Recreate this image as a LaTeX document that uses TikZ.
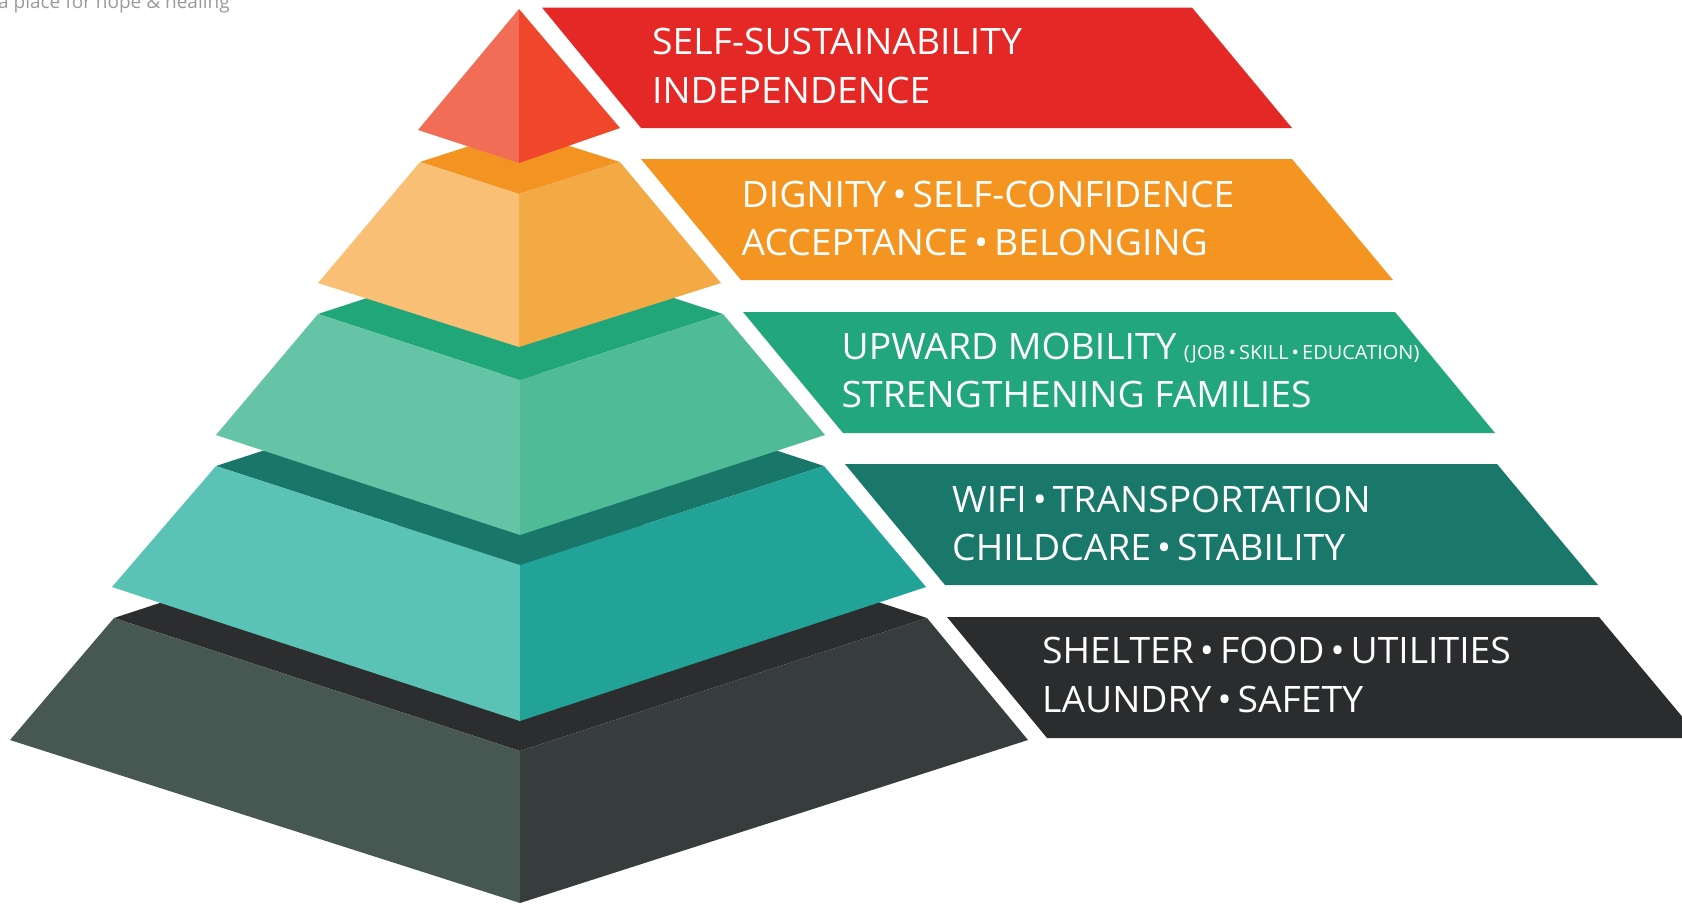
\documentclass[tikz,border=0pt]{standalone}
\usepackage{fontspec}
\setmainfont{Open Sans}
\newfontfamily\lblfont[FakeStretch=1.025]{Open Sans}
\newfontfamily\tagfont{Open Sans}
\newcommand\bul{\kern6pt•\kern6pt}
\newcommand\sbul{\kern3pt•\kern3pt}
\definecolor{apexL}{HTML}{F26D55}
\definecolor{apexR}{HTML}{F0462C}
\definecolor{orT}{HTML}{F39422}
\definecolor{orL}{HTML}{F8BF75}
\definecolor{orR}{HTML}{F3AA45}
\definecolor{grT}{HTML}{21A67A}
\definecolor{grL}{HTML}{66C4A6}
\definecolor{grR}{HTML}{4FBC97}
\definecolor{tlT}{HTML}{197769}
\definecolor{tlL}{HTML}{5BC3B6}
\definecolor{tlR}{HTML}{21A398}
\definecolor{dkT}{HTML}{2B2D2E}
\definecolor{dkL}{HTML}{475853}
\definecolor{dkR}{HTML}{373D3D}
\definecolor{bRed}{HTML}{E42825}
\definecolor{bOr}{HTML}{F39520}
\definecolor{bGr}{HTML}{21A77B}
\definecolor{bTl}{HTML}{1A786A}
\definecolor{bDk}{HTML}{2A2C2D}
\definecolor{tagc}{HTML}{9A9A9A}
\begin{document}
\begin{tikzpicture}[x=1pt,y=-1pt,
  lbl/.style={anchor=base west, inner sep=0pt, text=white, font=\lblfont\fontsize{36.4}{44}\selectfont},
  small/.style={anchor=base west, inner sep=0pt, text=white, font=\lblfont\fontsize{19.5}{23}\selectfont},
  tag/.style={anchor=base west, inner sep=0pt, text=tagc, font=\tagfont\fontsize{19}{23}\selectfont}]
\useasboundingbox (0,0) rectangle (1682,903);
\clip (0,0) rectangle (1682,903);
% tagline
\node[tag] (tagline) at (-2,8) {a place for hope \& healing};
% ---- pyramid: dark tier
\fill[dkT] (114,618) -- (520,485) -- (927,618) -- (520,751) -- cycle;
\fill[dkL] (114,618) -- (520,751) -- (520,903) -- (10,740) -- cycle;
\fill[dkR] (520,751) -- (927,618) -- (1028,740) -- (520,903) -- cycle;
% teal tier
\fill[tlT] (216,466) -- (520,367) -- (824,466) -- (520,565) -- cycle;
\fill[tlL] (216,466) -- (520,565) -- (520,721) -- (112,587) -- cycle;
\fill[tlR] (520,565) -- (824,466) -- (926,587) -- (520,721) -- cycle;
% green tier
\fill[grT] (318,314) -- (520,248) -- (723,314) -- (520,380) -- cycle;
\fill[grL] (318,314) -- (520,380) -- (520,535) -- (216,435) -- cycle;
\fill[grR] (520,380) -- (723,314) -- (825,435) -- (520,535) -- cycle;
% orange tier
\fill[orT] (420,162) -- (519,130) -- (620,162) -- (519,194) -- cycle;
\fill[orL] (420,162) -- (519,194) -- (519,347) -- (318,283) -- cycle;
\fill[orR] (519,194) -- (620,162) -- (721,283) -- (519,347) -- cycle;
% apex
\fill[apexL] (519,9) -- (418,130) -- (519,163) -- cycle;
\fill[apexR] (519,9) -- (519,163) -- (620,128) -- cycle;
% ---- banners
\fill[bRed] (542,7.5) -- (1192,7.5) -- (1292,128) -- (641,128) -- cycle;
\fill[bOr] (641,159) -- (1292,159) -- (1393,280) -- (741,280) -- cycle;
\fill[bGr] (743,312) -- (1395,312) -- (1495,433) -- (843,433) -- cycle;
\fill[bTl] (845,464) -- (1497,464) -- (1598,585) -- (945,585) -- cycle;
\fill[bDk] (947,617) -- (1599,617) -- (1700,738) -- (1047,738) -- cycle;
% ---- labels
\node[lbl] (r1) at (652,54) {SELF-SUSTAINABILITY};
\node[lbl] (r2) at (652,103) {INDEPENDENCE};
\node[lbl] (o1) at (741.5,207) {DIGNITY\bul SELF-CONFIDENCE};
\node[lbl] (o2) at (741.5,255) {ACCEPTANCE\bul BELONGING};
\node[lbl] (g1) at (841.5,359) {UPWARD MOBILITY};
\node[small] (g1s) at ([xshift=7pt]g1.base east) {(JOB\sbul SKILL\sbul EDUCATION)};
\node[lbl] (g2) at (841.5,407) {STRENGTHENING FAMILIES};
\node[lbl] (t1) at (952,512) {WIFI\bul TRANSPORTATION};
\node[lbl] (t2) at (952,560) {CHILDCARE\bul STABILITY};
\node[lbl] (d1) at (1042,663) {SHELTER\bul FOOD\bul UTILITIES};
\node[lbl] (d2) at (1042,712) {LAUNDRY\bul SAFETY};
\end{tikzpicture}
\end{document}
